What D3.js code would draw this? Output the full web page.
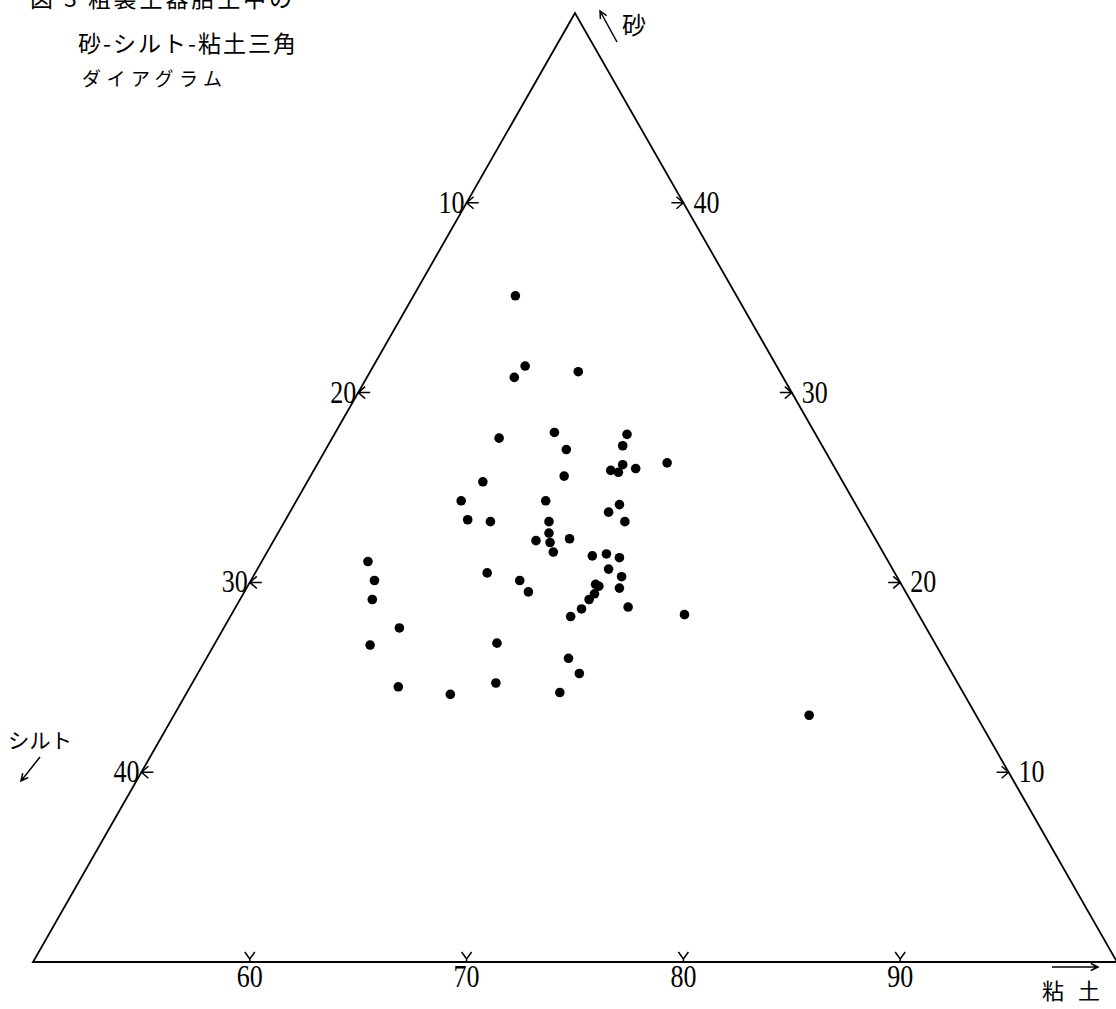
<!DOCTYPE html>
<html>
<head>
<meta charset="utf-8">
<script src="https://cdn.jsdelivr.net/npm/d3@7"></script>
<style>
  body { margin: 0; background: #fff; }
</style>
</head>
<body>
<div id="chart"></div>
<script>
// samples: sand % and clay % (silt = 100 - sand - clay)
const sand = [35.1, 31.4, 30.8, 31.1, 27.6, 27.9, 27.8, 27.0, 27.2, 26.3,
              26.2, 25.9, 25.8, 26.0, 25.6, 25.3, 24.3, 24.3, 24.1, 23.7,
              23.2, 23.3, 23.2, 23.2, 22.6, 22.2, 22.1, 22.3, 21.6, 21.4,
              21.5, 21.3, 20.7, 20.3, 20.5, 20.1, 19.5, 19.9, 19.8, 19.7,
              19.4, 19.1, 18.6, 18.2, 18.7, 18.3, 21.1, 20.1, 19.1, 17.6,
              16.7, 16.8, 16.0, 15.2, 14.5, 14.1, 14.7, 14.2, 13.0];
const clay = [54.7, 57.0, 56.8, 59.6, 57.7, 60.1, 63.5, 61.1, 63.6, 66.1,
              64.1, 63.7, 64.1, 64.8, 61.7, 58.1, 57.6, 61.5, 65.0, 64.7,
              65.7, 58.4, 59.5, 62.2, 62.5, 62.1, 62.8, 63.6, 63.2, 65.1,
              65.7, 66.4, 66.2, 67.0, 60.7, 62.4, 63.1, 66.0, 66.2, 67.2,
              66.2, 66.1, 66.0, 65.7, 68.1, 70.9, 54.9, 55.7, 56.1, 58.1,
              57.2, 63.0, 66.7, 67.6, 59.6, 62.2, 64.0, 67.2, 79.3];

const clayTicks = [60, 70, 80, 90];
const siltTicks = [10, 20, 30, 40];
const sandTicks = [40, 30, 20, 10];

const titleLines = ["図 3  粗製土器胎土中の", "砂-シルト-粘土三角", "ダイアグラム"];

const W = 1116, H = 1009;
const svg = d3.select("#chart").append("svg")
    .attr("width", W)
    .attr("height", H);

// sub-triangle clay >= 50 : horizontal position = clay + sand/2, vertical = sand
const x = d3.scaleLinear().domain([50, 100]).range([33, 1117]);
const y = d3.scaleLinear().domain([0, 50]).range([962, 13]);
const px = (s, c) => x(c + s / 2);

const serif = "'Liberation Serif', 'DejaVu Serif', serif";
const jp = "'Noto Sans CJK JP', sans-serif";

// frame
const verts = [[px(50, 50), y(50)], [px(0, 50), y(0)], [px(0, 100), y(0)]];
svg.append("path")
    .attr("d", "M" + verts.map(v => v.join(",")).join("L") + "Z")
    .attr("fill", "none")
    .attr("stroke", "#000")
    .attr("stroke-width", 1.8);

const ticks = svg.append("g")
    .attr("fill", "none")
    .attr("stroke", "#000")
    .attr("stroke-width", 1.5);

const num = (sel) => sel
    .attr("font-family", serif).attr("font-size", 31)
    .attr("textLength", 26).attr("lengthAdjust", "spacingAndGlyphs");

// silt ticks on left edge (clay = 50)
siltTicks.forEach(s => {
    const tx = px(50 - s, 50), ty = y(50 - s);
    ticks.append("path")
        .attr("d", `M${tx + 12},${ty}H${tx}M${tx + 7},${ty - 6}L${tx},${ty}L${tx + 7},${ty + 6}`);
    svg.append("text")
        .attr("x", tx - 2).attr("y", ty + 10)
        .attr("text-anchor", "end")
        .call(num)
        .text(s);
});

// sand ticks on right edge (silt = 0)
sandTicks.forEach(s => {
    const tx = px(s, 100 - s), ty = y(s);
    ticks.append("path")
        .attr("d", `M${tx - 12},${ty}H${tx}M${tx - 7},${ty - 6}L${tx},${ty}L${tx - 7},${ty + 6}`);
    svg.append("text")
        .attr("x", tx + 10).attr("y", ty + 10)
        .call(num)
        .text(s);
});

// clay ticks on the base (sand = 0)
clayTicks.forEach(c => {
    const tx = x(c), ty = y(0);
    ticks.append("path")
        .attr("d", `M${tx - 5},${ty - 10}L${tx},${ty - 3}L${tx + 5},${ty - 10}M${tx},${ty - 3}V${ty}`);
    svg.append("text")
        .attr("x", tx).attr("y", ty + 25)
        .attr("text-anchor", "middle")
        .call(num)
        .text(c);
});

// samples
svg.append("g")
    .selectAll("circle")
    .data(d3.zip(sand, clay))
    .join("circle")
    .attr("cx", d => px(d[0], d[1]))
    .attr("cy", d => y(d[0]))
    .attr("r", 4.8)
    .attr("fill", "#000");

// axis names with arrows
function arrow(x1, y1, x2, y2) {
    const a = Math.atan2(y2 - y1, x2 - x1), l = 8, w = 0.45;
    ticks.append("path")
        .attr("d", `M${x1},${y1}L${x2},${y2}` +
            `M${x2 - l * Math.cos(a - w)},${y2 - l * Math.sin(a - w)}L${x2},${y2}` +
            `L${x2 - l * Math.cos(a + w)},${y2 - l * Math.sin(a + w)}`);
}
arrow(617, 42, 600, 11);
arrow(40, 757, 21, 781);
arrow(1052, 967, 1098, 967);

svg.append("text").attr("x", 622).attr("y", 34)
    .attr("font-family", jp).attr("font-size", 24).text("砂");
svg.append("text").attr("x", 8).attr("y", 748)
    .attr("font-family", jp).attr("font-size", 21)
    .attr("textLength", 64).attr("lengthAdjust", "spacingAndGlyphs")
    .text("シルト");
svg.append("text").attr("x", 1042).attr("y", 999)
    .attr("font-family", jp).attr("font-size", 22)
    .attr("textLength", 58).attr("lengthAdjust", "spacing")
    .text("粘土");

// caption, top left (first line cut by the page edge, as in the source)
const cap = [
    { x: 30, y: 7, len: 262, size: 23 },
    { x: 78, y: 52, len: 218, size: 23 },
    { x: 82, y: 86, len: 140, size: 19 }
];
titleLines.forEach((t, i) => {
    svg.append("text")
        .attr("x", cap[i].x).attr("y", cap[i].y)
        .attr("font-family", jp).attr("font-size", cap[i].size)
        .attr("textLength", cap[i].len).attr("lengthAdjust", "spacing")
        .text(t);
});
</script>
</body>
</html>
